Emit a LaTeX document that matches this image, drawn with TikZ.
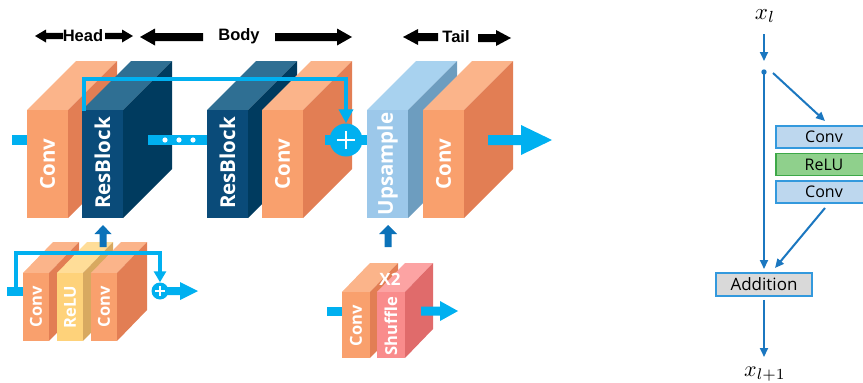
\documentclass[tikz,border=0pt]{standalone}
\usepackage{graphicx}
\usepackage{fontspec}
\setmainfont{Open Sans}
\newfontfamily\hdrfont{Liberation Sans}
\usetikzlibrary{arrows.meta}
\definecolor{cyanA}{HTML}{00B0F0}
\definecolor{upblue}{HTML}{0B72B9}
\definecolor{convF}{HTML}{F9A06D}
\definecolor{convT}{HTML}{FBB48A}
\definecolor{convS}{HTML}{E27E54}
\definecolor{resF}{HTML}{0A4B79}
\definecolor{resT}{HTML}{2F6F93}
\definecolor{resS}{HTML}{003B5F}
\definecolor{upsF}{HTML}{9CC8EA}
\definecolor{upsT}{HTML}{A8D2EF}
\definecolor{upsS}{HTML}{6D9DBF}
\definecolor{reluF}{HTML}{FED27A}
\definecolor{reluT}{HTML}{FFDD98}
\definecolor{reluS}{HTML}{D8A960}
\definecolor{shufF}{HTML}{F98C8C}
\definecolor{shufT}{HTML}{FCA3A3}
\definecolor{shufS}{HTML}{E06B6B}
\definecolor{rline}{HTML}{1B77C0}
\definecolor{boxdraw}{HTML}{3399DD}
\definecolor{convbox}{HTML}{BDD7EE}
\definecolor{relubox}{HTML}{8FD08C}
\definecolor{reludraw}{HTML}{3DA848}
\definecolor{addbox}{HTML}{D9D9D9}
% 3D block: x, ytop, w, h, dx, dy, colour prefix
\newcommand\blk[7]{%
  \fill[#7T] (#1,#2) -- ++(#5,-#6) -- ++(#3,0) -- ++(-#5,#6) -- cycle;
  \fill[#7S] ({#1+#3},#2) -- ++(#5,-#6) -- ++(0,#4) -- ++(-#5,#6) -- cycle;
  \fill[#7F] (#1,#2) rectangle ++(#3,#4);}
% horizontal block arrow: style, tail x, tip x, y, shaft half, head half, signed head length
\newcommand\harr[7]{%
  \fill[#1] (#2,{#4-#5}) -- ({#3-(#7)},{#4-#5}) -- ({#3-(#7)},{#4-#6}) -- (#3,#4)
    -- ({#3-(#7)},{#4+#6}) -- ({#3-(#7)},{#4+#5}) -- (#2,{#4+#5}) -- cycle;}
% vertical up block arrow: style, x, tail y, tip y, shaft half, head half, head length
\newcommand\varr[7]{%
  \fill[#1] ({#2-#5},#3) -- ({#2-#5},{#4+#7}) -- ({#2-#6},{#4+#7}) -- (#2,#4)
    -- ({#2+#6},{#4+#7}) -- ({#2+#5},{#4+#7}) -- ({#2+#5},#3) -- cycle;}
\begin{document}
\begin{tikzpicture}[x=1pt,y=-1pt,
  lbl/.style={text=white, font=\fontsize{20.5}{20.5}\selectfont\bfseries, rotate=90, inner sep=0pt},
  slbl/.style={text=white, font=\fontsize{16.5}{16.5}\selectfont\bfseries, rotate=90, inner sep=0pt},
  hdr/.style={font=\hdrfont\fontsize{16.5}{17}\selectfont\bfseries, inner sep=0pt},
  rbox/.style={draw=boxdraw, line width=1.5pt, minimum width=96pt, minimum height=22pt, inner sep=0pt,
     font=\fontsize{16}{16}\selectfont},
  rarr/.style={draw=rline, line width=2pt, -{Triangle[length=9pt,width=8pt]}},
  mlabel/.style={inner sep=0pt}]
\useasboundingbox (0,0) rectangle (863,383);
\clip (0,0) rectangle (863,383);

% ---- header labels ----
\node[hdr] (head) at (83,36) {Head};
\node[hdr] (body) at (239,36) {Body};
\node[hdr] (tail) at (456,37) {Tail};
\harr{black}{63}{35}{36}{3.2}{6.5}{-11}
\harr{black}{105}{133}{36}{3.2}{6.5}{11}
\harr{black}{203}{140}{37}{4}{8.5}{-15}
\harr{black}{275}{352}{37}{4}{8.5}{15}
\harr{black}{438}{403}{37}{4}{8}{-15}
\harr{black}{478}{511}{38}{4}{8}{15}

% ---- main chain ----
\fill[cyanA] (12,134.5) rectangle (27,144.5);
\blk{27}{110}{41}{108}{49}{49}{conv}
\node[lbl] (hconv) at (47.5,164) {Conv};
\blk{82}{110}{41}{108}{49}{49}{res}
\node[lbl] (rb1) at (102.5,163) {ResBlock};
\fill[cyanA] (148,135) rectangle (207,144.5);
\foreach \dx in {165,179,193} \fill[white] (\dx,140) circle (2.6);
\blk{207}{110}{41}{108}{49}{49}{res}
\node[lbl] (rb2) at (227.5,163) {ResBlock};
\blk{262}{110}{41}{108}{49}{49}{conv}
\node[lbl] (bconv) at (282.5,164) {Conv};
\fill[cyanA] (325,135) rectangle (368,144.5);
\node[circle, fill=cyanA, minimum size=33pt, inner sep=0pt] (plus) at (346,140) {};
\draw[white, line width=2.6pt] ([xshift=-9pt]plus.center) -- ([xshift=9pt]plus.center)
  ([yshift=-9pt]plus.center) -- ([yshift=9pt]plus.center);
\blk{367}{110}{41}{108}{49}{49}{ups}
\node[lbl] (ups) at (387.5,164) {Upsample};
\blk{423}{110}{41}{108}{49}{49}{conv}
\node[lbl] (tconv) at (443.5,164) {Conv};
\harr{cyanA}{488}{552}{140}{5}{15}{31}
\coordinate (skipstart) at (84,111);
\draw[cyanA, line width=4pt, -{Triangle[length=14pt,width=14pt]}] (skipstart) |- (346,79) -- (plus.north);

% ---- bottom-left residual block ----
\fill[cyanA] (7,287) rectangle (23,295.5);
\blk{23}{273}{26}{68}{30}{31}{conv}
\node[slbl] (c1) at (36,307) {Conv};
\blk{57}{273}{26}{68}{30}{31}{relu}
\node[slbl] (relu) at (70,307) {ReLU};
\blk{91}{273}{26}{68}{30}{31}{conv}
\node[slbl] (c2) at (104,307) {Conv};
\node[circle, fill=cyanA, minimum size=17pt, inner sep=0pt] (splus) at (160,291) {};
\draw[white, line width=1.6pt] ([xshift=-5pt]splus.center) -- ([xshift=5pt]splus.center)
  ([yshift=-5pt]splus.center) -- ([yshift=5pt]splus.center);
\harr{cyanA}{166}{198}{291}{4}{9}{18}
\coordinate (sstart) at (16,288);
\draw[cyanA, line width=3.5pt, -{Triangle[length=11pt,width=12pt]}] (sstart) |- (160,253) -- (splus.north);
\varr{upblue}{103}{247}{225}{3.5}{8.5}{9}

% ---- upsample module ----
\varr{upblue}{388}{247}{225}{3.5}{9}{9}
\fill[cyanA] (327,307) rectangle (342,316);
\blk{342}{292}{28}{66}{28}{29}{conv}
\node[slbl] (uc) at (356,326) {Conv};
\blk{377}{292}{28}{66}{28}{29}{shuf}
\node[slbl] (shuf) at (391,326) {Shuffle};
\node[text=white, font=\fontsize{17}{17}\selectfont\bfseries, inner sep=0pt] (x2) at (390,279) {X2};
\harr{cyanA}{421}{458}{311}{4.5}{10}{18}

% ---- right: residual block diagram ----
\node[mlabel] (xl) at (765,16) {\scalebox{2.3}{$x_l$}};
\coordinate (a1) at (764,34);
\coordinate (dot) at (764,72);
\fill[rline] (dot) circle (2.7);
\draw[rarr] (a1) -- (764,61);
\node[rbox, fill=convbox] (rc1) at (824,137) {Conv};
\node[rbox, fill=relubox, draw=reludraw] (rrelu) at (824,164.5) {ReLU};
\node[rbox, fill=convbox] (rc2) at (824,192) {Conv};
\node[rbox, fill=addbox, minimum height=23pt, font=\fontsize{17}{17}\selectfont] (add) at (764,284.5) {Addition};
\coordinate (d1s) at (773,73);
\coordinate (d1e) at (825,121);
\coordinate (d2s) at (825,208);
\coordinate (d2e) at (775,268);
\coordinate (bend) at (764,357);
\draw[rarr] (dot) -- (764,269);
\draw[rarr] (d1s) -- (d1e);
\draw[rarr] (d2s) -- (d2e);
\draw[rarr] (add.south) ++(0,3) -- (bend);
\node[mlabel, anchor=south] (xl1) at (765,382) {\scalebox{2.2}{$x_{l+1}$}};
\end{tikzpicture}
\end{document}
